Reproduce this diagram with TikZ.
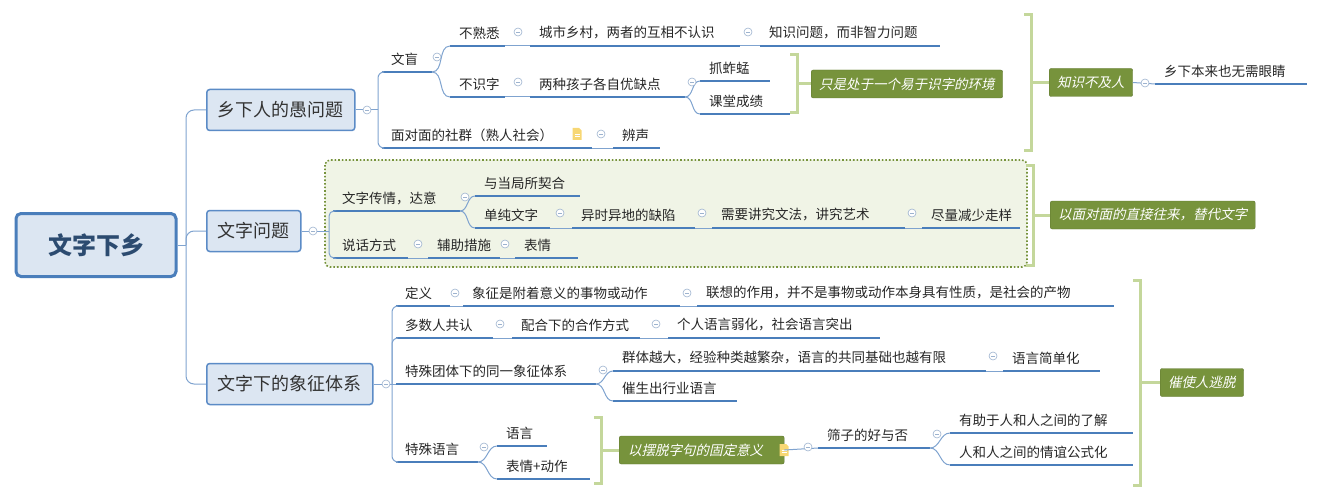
\documentclass[tikz,border=0pt]{standalone}
\usepackage{fontspec}
\setmainfont{Noto Sans CJK SC}
\newfontfamily\cjkit[FakeSlant=0.22]{Noto Sans CJK SC}
\usetikzlibrary{calc}
\definecolor{ulc}{HTML}{4A7EBB}
\definecolor{connc}{HTML}{7FA3CF}
\definecolor{boxf}{HTML}{DCE6F2}
\definecolor{boxd}{HTML}{5B8BC6}
\definecolor{foldc}{HTML}{9DB3CF}
\definecolor{labf}{HTML}{77933C}
\definecolor{brkc}{HTML}{C4D79B}
\definecolor{zonef}{HTML}{F0F4E6}
\definecolor{iconc}{HTML}{F7D774}
\tikzset{
  tp/.style={anchor=west,inner sep=0pt,font=\fontsize{13.5}{14}\selectfont,text=black!85},
  ul/.style={ulc,line width=2.5pt},
  conn/.style={connc,line width=1pt},
  mainbox/.style={draw=boxd,fill=boxf,line width=1.5pt,rounded corners=3pt,inner xsep=11pt,minimum height=41pt,font=\fontsize{18}{20}\selectfont,text=black!80},
  rootbox/.style={draw=ulc,fill=boxf,line width=3pt,rounded corners=5pt,minimum width=160pt,minimum height=63pt,font=\bfseries\fontsize{24}{26}\selectfont,text=ulc!60!black},
  lab/.style={anchor=west,fill=labf,draw=labf!80!black,rounded corners=2pt,minimum height=28pt,inner xsep=8pt,text=white,font=\cjkit\fontsize{13.5}{14}\selectfont},
  fold/.style={circle,draw=foldc,fill=white,minimum size=8pt,inner sep=0pt,line width=0.6pt,
    path picture={\draw[foldc,line width=0.6pt] ([xshift=-2pt]path picture bounding box.center) -- ([xshift=2pt]path picture bounding box.center);}},
  brk/.style={brkc,line width=3pt}
}
% topic: name, x1, x2, underline y, text
\newcommand\tpc[5]{%
  \node[tp] (#1) at (#2+9,#4-13) {#5};
  \draw[ul] (#2,#4) coordinate (#1-l) -- (#3,#4) coordinate (#1-r);}
% bracket: name, x, top, bottom
\newcommand\brkt[4]{%
  \draw[brk] (#2-7,#3) -- (#2,#3) -- (#2,#4) -- (#2-7,#4);
  \coordinate (#1) at (#2,{(#3+#4)/2});}
\newcommand\docicon[2]{%
  \fill[iconc] (#1-4.5,#2-6) -- (#1+2,#2-6) -- (#1+4.5,#2-3.5) -- (#1+4.5,#2+6) -- (#1-4.5,#2+6) -- cycle;
  \draw[white,line width=0.6pt] (#1-2.5,#2) -- (#1+2.5,#2) (#1-2.5,#2+2.5) -- (#1+2.5,#2+2.5);}
\begin{document}
\begin{tikzpicture}[x=1pt,y=-1pt]
\useasboundingbox (0,0) rectangle (1322,500);
% zone of the second branch
\draw[labf,line width=1.6pt,dotted,fill=zonef,rounded corners=5pt] (325,160) rectangle (1027,267);

% root and main topics
\node[rootbox] (root) at (96,245) {文字下乡};
\node[mainbox,anchor=west] (m1) at (206,110) {乡下人的愚问题};
\node[mainbox,anchor=west] (m2) at (206,231) {文字问题};
\node[mainbox,anchor=west] (m3) at (206,384) {文字下的象征体系};
\coordinate (s0) at (186,245);
\draw[conn] (root.east) -- (s0);
\foreach \m in {m1,m2,m3}
  \draw[conn,rounded corners=8pt] (s0) |- (\m.west);

% branch 1
\tpc{wm}{382}{432}{72}{文盲}
\tpc{bsx}{450}{505}{46}{不熟悉}
\tpc{cs}{530}{740}{46}{城市乡村，两者的互相不认识}
\tpc{zs}{760}{940}{46}{知识问题，而非智力问题}
\tpc{bsz}{450}{505}{97}{不识字}
\tpc{lz}{530}{685}{97}{两种孩子各自优缺点}
\tpc{zz}{700}{770}{81}{抓蚱蜢}
\tpc{kt}{700}{790}{114}{课堂成绩}
\tpc{mdm}{382}{592}{148}{面对面的社群（熟人社会）}
\tpc{bs}{613}{660}{148}{辨声}
\docicon{577}{134}
\coordinate (s1) at (378,110);
\draw[conn] (m1.east) -- (s1);
\draw[conn,rounded corners=6pt] (s1) |- (wm-l);
\draw[conn,rounded corners=6pt] (s1) |- (mdm-l);
\draw[conn] (wm-r) to[out=0,in=180] (bsx-l);
\draw[conn] (wm-r) to[out=0,in=180] (bsz-l);
\draw[conn] (bsx-r) -- (cs-l) (cs-r) -- (zs-l) (bsz-r) -- (lz-l) (mdm-r) -- (bs-l);
\draw[conn] (lz-r) to[out=0,in=180] (zz-l);
\draw[conn] (lz-r) to[out=0,in=180] (kt-l);
\brkt{b1}{797}{55}{113}
\node[lab] (l1) at ($(b1)+(14,0)$) {只是处于一个易于识字的环境};
\draw[brk] (b1) -- (l1.west);
\brkt{b2}{1031}{15}{150}
\node[lab] (l2) at ($(b2)+(18,0)$) {知识不及人};
\draw[brk] (b2) -- (l2.west);
\tpc{xx}{1155}{1307}{84}{乡下本来也无需眼睛}
\draw[conn] (l2.east) -- (xx-l);
\foreach \n/\x/\y in {f1/367/110,f2/437/57,f3/518/32,f4/748/32,f5/518/82,f6/692/82,f7/601/134,f8/1145/83}
  \node[fold] (\n) at (\x,\y) {};

% branch 2
\tpc{cq}{333}{460}{211}{文字传情，达意}
\tpc{yd}{475}{580}{196}{与当局所契合}
\tpc{cw}{475}{550}{228}{单纯文字}
\tpc{ys}{572}{695}{228}{异时异地的缺陷}
\tpc{xy}{712}{905}{228}{需要讲究文法，讲究艺术}
\tpc{jl}{922}{1020}{228}{尽量减少走样}
\tpc{sh}{333}{408}{258}{说话方式}
\tpc{fz}{428}{500}{258}{辅助措施}
\tpc{bq1}{515}{578}{258}{表情}
\coordinate (s2) at (329,231);
\draw[conn] (m2.east) -- (s2);
\draw[conn,rounded corners=5pt] (s2) |- (cq-l);
\draw[conn,rounded corners=5pt] (s2) |- (sh-l);
\draw[conn] (cq-r) to[out=0,in=180] (yd-l);
\draw[conn] (cq-r) to[out=0,in=180] (cw-l);
\draw[conn] (cw-r) -- (ys-l) (ys-r) -- (xy-l) (xy-r) -- (jl-l) (sh-r) -- (fz-l) (fz-r) -- (bq1-l);
\brkt{b3}{1033}{165}{265}
\node[lab] (l3) at ($(b3)+(17,0)$) {以面对面的直接往来，替代文字};
\draw[brk] (b3) -- (l3.west);
\foreach \n/\x/\y in {g1/313/231,g2/465/197,g3/560/213,g4/702/213,g5/912/213,g6/418/244,g7/505/244}
  \node[fold] (\n) at (\x,\y) {};

% branch 3
\tpc{dy}{396}{450}{306}{定义}
\tpc{xz}{463}{680}{306}{象征是附着意义的事物或动作}
\tpc{lx}{697}{1114}{306}{联想的作用，并不是事物或动作本身具有性质，是社会的产物}
\tpc{ds}{396}{493}{338}{多数人共认}
\tpc{ph}{512}{640}{338}{配合下的合作方式}
\tpc{gr}{668}{880}{338}{个人语言弱化，社会语言突出}
\tpc{ts}{396}{596}{384}{特殊团体下的同一象征体系}
\tpc{qt}{613}{986}{371}{群体越大，经验种类越繁杂，语言的共同基础也越有限}
\tpc{jd}{1003}{1100}{371}{语言简单化}
\tpc{hy}{613}{737}{401}{催生出行业语言}
\tpc{tyy}{396}{478}{462}{特殊语言}
\tpc{yy}{497}{547}{446}{语言}
\tpc{bq}{497}{590}{479}{表情+动作}
\tpc{sz}{818}{930}{448}{筛子的好与否}
\tpc{yz}{950}{1133}{433}{有助于人和人之间的了解}
\tpc{rq}{950}{1133}{465}{人和人之间的情谊公式化}
\coordinate (s3) at (392,384);
\draw[conn] (m3.east) -- (s3);
\draw[conn,rounded corners=6pt] (s3) |- (dy-l);
\draw[conn] (s3) -- (ts-l);
\draw[conn,rounded corners=6pt] (s3) |- (tyy-l);
\draw[conn,rounded corners=6pt] (s3) |- (ds-l);
\draw[conn] (dy-r) -- (xz-l) (xz-r) -- (lx-l) (ds-r) -- (ph-l) (ph-r) -- (gr-l) (qt-r) -- (jd-l);
\draw[conn] (ts-r) to[out=0,in=180] (qt-l);
\draw[conn] (ts-r) to[out=0,in=180] (hy-l);
\draw[conn] (tyy-r) to[out=0,in=180] (yy-l);
\draw[conn] (tyy-r) to[out=0,in=180] (bq-l);
\brkt{b4}{601}{417}{483}
\node[lab,inner xsep=0pt,text width=165pt,align=left] (l4) at ($(b4)+(18,0)$) {\hspace*{9pt}以摆脱字句的固定意义};
\draw[brk] (b4) -- (l4.west);
\docicon{784}{450}
\draw[conn] (l4.east) -- (sz-l);
\draw[conn] (sz-r) to[out=0,in=180] (yz-l);
\draw[conn] (sz-r) to[out=0,in=180] (rq-l);
\brkt{b5}{1140}{280}{485}
\node[lab] (l5) at ($(b5)+(20,0)$) {催使人逃脱};
\draw[brk] (b5) -- (l5.west);
\foreach \n/\x/\y in {h1/386/384,h2/455/293,h3/687/293,h4/500/324,h5/656/324,h6/603/370,h7/993/356,h8/484/447,h9/808/447,h10/937/434}
  \node[fold] (\n) at (\x,\y) {};
\end{tikzpicture}
\end{document}
